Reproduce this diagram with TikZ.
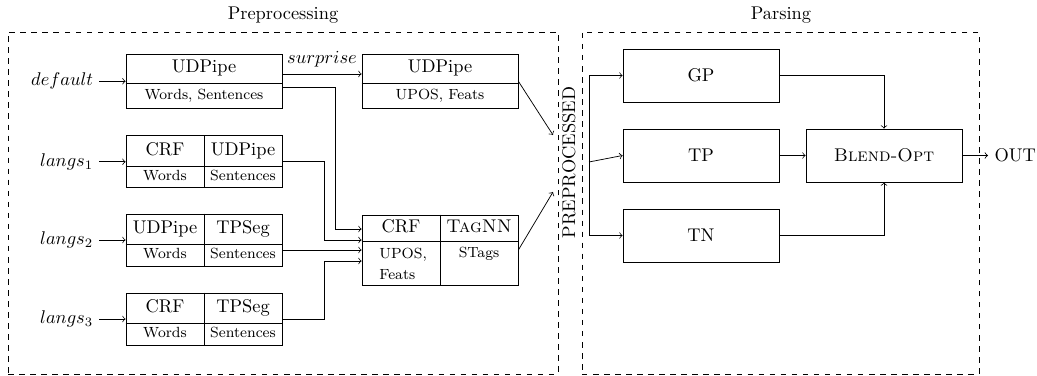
\documentclass[tikz,border=0pt]{standalone}
\usetikzlibrary{calc}
\begin{document}
\begin{tikzpicture}[x=0.5435pt,y=-0.5435pt,
  box/.style={draw, inner sep=0pt, minimum width=84.8pt},
  pbox/.style={draw, inner sep=0pt, minimum width=84.8pt, minimum height=28.8pt},
  lbl/.style={inner sep=0pt, text height=6.83pt, text depth=1.94pt},
  sm/.style={inner sep=0pt, font=\footnotesize, text height=5.5pt, text depth=1.55pt},
  inlbl/.style={inner sep=3pt, anchor=east},
  arr/.style={->},
  region/.style={draw, dashed, inner sep=0pt}]
\useasboundingbox (0,0) rectangle (1037,376);

% regions
\node[region, minimum width=298.9pt, minimum height=185.9pt] (prep) at (283,203) {};
\node[region, minimum width=215.8pt, minimum height=185.9pt] (pars) at (780.5,203) {};
\node[lbl] (preplbl) at (283,15) {Preprocessing};
\node[lbl] (parslbl) at (781,15) {Parsing};

% row 1: default
\node[inlbl] (def) at (99,81.3) {$default$};
\node[box, minimum height=29.35pt] (B0) at (204,81.3) {};
\draw (B0.west |- 0,83.3) -- (B0.east |- 0,83.3);
\node[lbl] (B0t) at (204,68.5) {UDPipe};
\node[sm] (B0b) at (204,95.7) {Words, Sentences};
\draw[arr] (def.east) -- (B0.west);

\node[box, minimum height=29.35pt] (B1) at (440,81.3) {};
\draw (B1.west |- 0,83.3) -- (B1.east |- 0,83.3);
\node[lbl] (B1t) at (440,68.5) {UDPipe};
\node[sm] (B1b) at (440,95.7) {UPOS, Feats};
\draw[arr] ([yshift=4pt]B0.east) -- ([yshift=4pt]B1.west)
  node[midway, above] {$surprise$};

% row 2: langs1
\node[inlbl] (l1) at (99,161.8) {$langs_1$};
\node[box, minimum height=28.26pt] (L1) at (204,161.8) {};
\draw (L1.west |- 0,166) -- (L1.east |- 0,166);
\draw (L1.north) -- (L1.south);
\node[lbl] (L1a) at (165,151) {CRF};
\node[lbl] (L1b) at (243,151) {UDPipe};
\node[sm] (L1c) at (165,176.8) {Words};
\node[sm] (L1d) at (243,176.8) {Sentences};
\draw[arr] (l1.east) -- (L1.west);

% row 3: langs2
\node[inlbl] (l2) at (99,240) {$langs_2$};
\node[box, minimum height=28.26pt] (L2) at (204,240) {};
\draw (L2.west |- 0,244) -- (L2.east |- 0,244);
\draw (L2.north) -- (L2.south);
\node[lbl] (L2a) at (165,229) {UDPipe};
\node[lbl] (L2b) at (243,229) {TPSeg};
\node[sm] (L2c) at (165,255) {Words};
\node[sm] (L2d) at (243,255) {Sentences};
\draw[arr] (l2.east) -- (L2.west);

% row 4: langs3
\node[inlbl] (l3) at (99,319) {$langs_3$};
\node[box, minimum height=28.26pt] (L3) at (204,319) {};
\draw (L3.west |- 0,323) -- (L3.east |- 0,323);
\draw (L3.north) -- (L3.south);
\node[lbl] (L3a) at (165,308) {CRF};
\node[lbl] (L3b) at (243,308) {TPSeg};
\node[sm] (L3c) at (165,334) {Words};
\node[sm] (L3d) at (243,334) {Sentences};
\draw[arr] (l3.east) -- (L3.west);

% CRF / TagNN box
\node[box, minimum height=38.05pt] (C) at (440,250) {};
\draw (C.west |- 0,241) -- (C.east |- 0,241);
\draw (C.north) -- (C.south);
\node[lbl] (Ca) at (401,228) {CRF};
\node[lbl] (Cb) at (479,228) {\textsc{TagNN}};
\node[sm, align=left, anchor=north west, text height=, text depth=] (Cc) at (379,248) {UPOS,\\[2pt]Feats};
\node[sm] (Cd) at (479,254) {STags};

\coordinate (cin1) at ([yshift=11.4pt]C.west);
\coordinate (cin2) at ([yshift=5.4pt]C.west);
\coordinate (cin4) at ([yshift=-6pt]C.west);
\draw[arr] ([yshift=-3.1pt]B0.east) -- ++(53,0) |- (cin1);
\draw[arr] (L1.east) -- ++(42,0) |- (cin2);
\draw[arr] (L2.east |- C.west) -- (C.west);
\draw[arr] (L3.east) -- ++(42,0) |- (cin4);

% PREPROCESSED
\node[lbl, rotate=90] (P) at (570.5,162.5) {PREPROCESSED};
\coordinate (pin1) at (553,135);
\coordinate (pin2) at (553,192);
\draw[arr] (B1.east) -- (pin1);
\draw[arr] (C.east) -- (pin2);

% Parsing
\node[pbox] (GP) at (701,75.5) {GP};
\node[pbox] (TP) at (701,155.5) {TP};
\node[pbox] (TN) at (701,235.5) {TN};
\node[pbox] (BL) at (884,155.5) {\textsc{Blend-Opt}};
\node[anchor=west] (OUT) at (988,155.5) {OUT};

\coordinate (dist) at (589,162);
\draw (GP.west -| dist) -- (TN.west -| dist);
\draw[arr] (GP.west -| dist) -- (GP.west);
\draw[arr] (dist) -- (TP.west);
\draw[arr] (TN.west -| dist) -- (TN.west);
\draw[arr] (GP.east) -| (BL.north);
\draw[arr] (TN.east) -| (BL.south);
\draw[arr] (TP.east) -- (BL.west);
\draw[arr] (BL.east) -- (OUT.west);
\end{tikzpicture}
\end{document}
